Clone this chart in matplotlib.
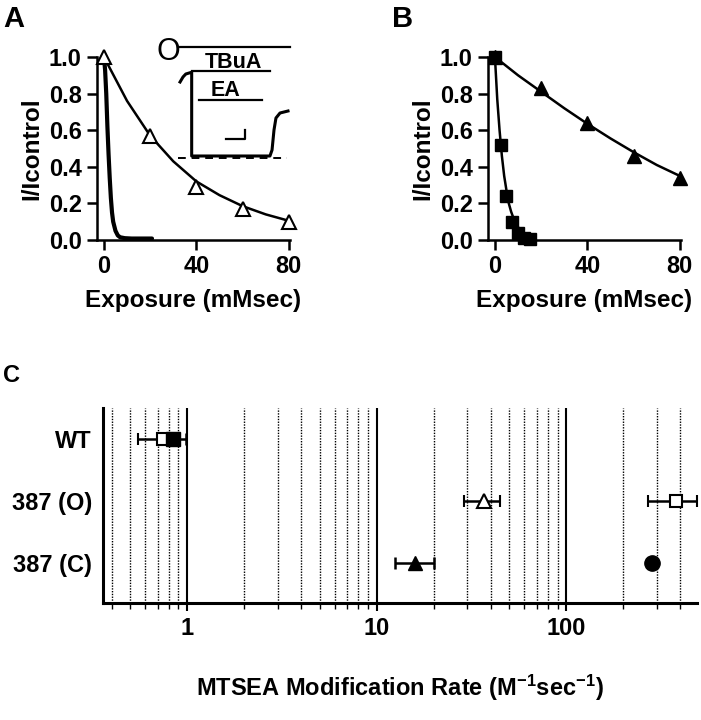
import matplotlib
matplotlib.use("Agg")
import matplotlib.pyplot as plt
import numpy as np

plt.rcParams['font.family'] = ['Liberation Sans', 'DejaVu Sans']
plt.rcParams['font.weight'] = 'bold'
plt.rcParams['axes.labelweight'] = 'bold'
plt.rcParams['mathtext.fontset'] = 'custom'
plt.rcParams['mathtext.rm'] = 'Liberation Sans:bold'
plt.rcParams['mathtext.it'] = 'Liberation Sans:bold'
plt.rcParams['mathtext.bf'] = 'Liberation Sans:bold'

# ---- panel A data ----
a_tri_x = [0, 20, 40, 60, 80]
a_tri_y = [1.0, 0.57, 0.29, 0.17, 0.10]
a_fit_x = [0, 10, 20, 30, 40, 50, 60, 70, 80]
a_fit_y = [1.0, 0.76, 0.57, 0.43, 0.32, 0.245, 0.185, 0.14, 0.105]
a_fast_x = [0, 0.5, 1.0, 1.5, 2.0, 2.5, 3.0, 3.5, 4.0, 5.0, 6.0, 7.0, 9.0, 12, 20.8]
a_fast_y = [1.0, 0.93, 0.80, 0.62, 0.47, 0.34, 0.23, 0.15, 0.10, 0.05, 0.025, 0.015, 0.01, 0.008, 0.008]

# inset trace (arbitrary units)
trace_t = [17.9, 20, 22, 26.2, 26.2, 82.1, 83.6, 85, 86.4, 89.3, 95]
trace_i = [66.4, 70.4, 72.8, 74.2, 7.2, 7.2, 12, 28, 37.6, 41.6, 43.2]

# ---- panel B data ----
b_sq_x = [0, 2.5, 5, 7.5, 10, 12.5, 15]
b_sq_y = [1.0, 0.52, 0.24, 0.10, 0.04, 0.01, 0.005]
b_sq_fit_x = [0, 1, 2, 3, 4, 5, 6, 7, 8, 9, 10, 12, 14, 16]
b_sq_fit_y = [1.0, 0.77, 0.60, 0.46, 0.35, 0.27, 0.20, 0.155, 0.12, 0.09, 0.07, 0.04, 0.02, 0.01]
b_tri_x = [0, 20, 40, 60, 80]
b_tri_y = [1.0, 0.83, 0.64, 0.46, 0.34]
b_tri_fit_x = [0, 10, 20, 30, 40, 50, 60, 70, 80]
b_tri_fit_y = [1.0, 0.90, 0.81, 0.72, 0.635, 0.555, 0.48, 0.41, 0.35]

# ---- panel C data ----
categories = ['WT', '387 (O)', '387 (C)']
cat_pos = [3, 2, 1]
# open squares: WT, 387 (O)
osq_rate = [0.75, 380]
osq_lo = [0.55, 270]
osq_hi = [0.80, 490]
osq_row = [3, 2]
# filled square: WT
fsq_rate = [0.84]
fsq_lo = [0.78]
fsq_hi = [0.99]
fsq_row = [3]
# open triangle: 387 (O)
otri_rate = [37]
otri_lo = [29]
otri_hi = [45]
otri_row = [2]
# filled triangle: 387 (C)
ftri_rate = [16]
ftri_lo = [12.5]
ftri_hi = [20]
ftri_row = [1]
# filled circle: 387 (C)
fcir_rate = [285]
fcir_lo = [275]
fcir_hi = [295]
fcir_row = [1]

W, H = 701, 720
fig = plt.figure(figsize=(W / 100, H / 100), dpi=100)


def box(l, t, r, b):
    return [l / W, 1 - b / H, (r - l) / W, (b - t) / H]


def style_decay(ax):
    ax.set_xlim(-3, 80.5)
    ax.set_ylim(0, 1.0)
    ax.spines['top'].set_visible(False)
    ax.spines['right'].set_visible(False)
    for s in ['left', 'bottom']:
        ax.spines[s].set_linewidth(1.8)
    ax.set_xticks([0, 40, 80])
    ax.set_yticks([0.0, 0.2, 0.4, 0.6, 0.8, 1.0])
    ax.set_yticklabels(['0.0', '0.2', '0.4', '0.6', '0.8', '1.0'])
    ax.tick_params(width=1.8, length=7, labelsize=17, pad=4)
    ax.set_xlabel('Exposure (mMsec)', fontsize=17.5, labelpad=8)
    ax.set_ylabel('I/Icontrol', fontsize=17.5, labelpad=4)


# Panel A
axA = fig.add_axes(box(97, 57, 290, 240))
axA.plot(a_fit_x, a_fit_y, color='k', lw=1.8)
axA.plot(a_fast_x, a_fast_y, color='k', lw=3.0, solid_capstyle='round')
axA.plot(a_tri_x, a_tri_y, ls='none', marker='^', ms=10.5, mfc='white', mec='k',
         mew=1.5, clip_on=False, zorder=5)
style_decay(axA)

# inset in A
axI = fig.add_axes(box(155, 40, 295, 165))
axI.set_xlim(0, 100)
axI.set_ylim(0, 100)
axI.axis('off')
axI.plot(trace_t, trace_i, color='k', lw=2.2)
axI.plot([16.4, 96.4], [94.4, 94.4], color='k', lw=1.6)
axI.plot([26.2, 82.1], [75.2, 75.2], color='k', lw=1.6)
axI.plot([31.4, 76.2], [52, 52], color='k', lw=1.6)
axI.plot([50.7, 64.3, 64.3], [20.8, 20.8, 28], color='k', lw=1.6)
axI.plot([16.4, 94], [5.4, 5.4], color='k', lw=1.4, ls=(0, (4, 3)))
axI.text(9.6, 90, 'O', fontsize=22, fontweight='normal', ha='center', va='center')
axI.text(55.7, 82, 'TBuA', fontsize=15.5, ha='center', va='center')
axI.text(50, 59.6, 'EA', fontsize=15.5, ha='center', va='center')

# Panel B
axB = fig.add_axes(box(488, 57, 681, 240))
axB.plot(b_tri_fit_x, b_tri_fit_y, color='k', lw=1.8)
axB.plot(b_sq_fit_x, b_sq_fit_y, color='k', lw=1.8)
axB.plot(b_tri_x, b_tri_y, ls='none', marker='^', ms=9.5, color='k', clip_on=False, zorder=5)
axB.plot(b_sq_x, b_sq_y, ls='none', marker='s', ms=8, color='k', clip_on=False, zorder=6)
style_decay(axB)

# Panel C
axC = fig.add_axes(box(103, 408, 697, 603))
axC.set_xscale('log')
axC.set_xlim(0.36, 490)
axC.set_ylim(0.35, 3.5)
axC.set_xticks([1, 10, 100])
axC.set_xticklabels(['1', '10', '100'])
axC.xaxis.set_minor_locator(matplotlib.ticker.LogLocator(subs=np.arange(2, 10)))
axC.xaxis.set_minor_formatter(matplotlib.ticker.NullFormatter())
axC.grid(which='major', axis='x', color='k', lw=1.5, ls='-')
axC.grid(which='minor', axis='x', color='k', lw=1.0, ls=(0, (1, 1)))
axC.set_axisbelow(True)
axC.set_yticks(cat_pos)
axC.set_yticklabels(categories)
axC.tick_params(axis='y', length=0, labelsize=17, pad=8)
axC.tick_params(axis='x', which='major', width=1.5, length=6, labelsize=17, pad=4)
axC.tick_params(axis='x', which='minor', width=1.0, length=4)
for s in ['top', 'right']:
    axC.spines[s].set_visible(False)
for s in ['left', 'bottom']:
    axC.spines[s].set_linewidth(2.2)


def errs(rate, lo, hi):
    r = np.array(rate)
    return [r - np.array(lo), np.array(hi) - r]


eb = dict(ls='none', ecolor='k', elinewidth=1.8, capsize=4, capthick=1.8, clip_on=False, zorder=5)
axC.errorbar(osq_rate, osq_row, xerr=errs(osq_rate, osq_lo, osq_hi), marker='s', ms=9,
             mfc='white', mec='k', mew=1.5, **eb)
axC.errorbar(fsq_rate, fsq_row, xerr=errs(fsq_rate, fsq_lo, fsq_hi), marker='s', ms=9.5,
             mfc='k', mec='k', **eb)
axC.errorbar(otri_rate, otri_row, xerr=errs(otri_rate, otri_lo, otri_hi), marker='^', ms=9.5,
             mfc='white', mec='k', mew=1.5, **eb)
axC.errorbar(ftri_rate, ftri_row, xerr=errs(ftri_rate, ftri_lo, ftri_hi), marker='^', ms=10,
             mfc='k', mec='k', **eb)
axC.errorbar(fcir_rate, fcir_row, xerr=errs(fcir_rate, fcir_lo, fcir_hi), marker='o', ms=11,
             mfc='k', mec='k', **eb)
axC.set_xlabel('MTSEA Modification Rate (M$^{-1}$sec$^{-1}$)', fontsize=17, labelpad=24)

# panel letters
fig.text(3 / W, 1 - 5 / H, 'A', fontsize=21, va='top', ha='left')
fig.text(392 / W, 1 - 5 / H, 'B', fontsize=21, va='top', ha='left')
fig.text(3 / W, 1 - 364 / H, 'C', fontsize=17, va='top', ha='left')

fig.savefig('out.png', dpi=100)
